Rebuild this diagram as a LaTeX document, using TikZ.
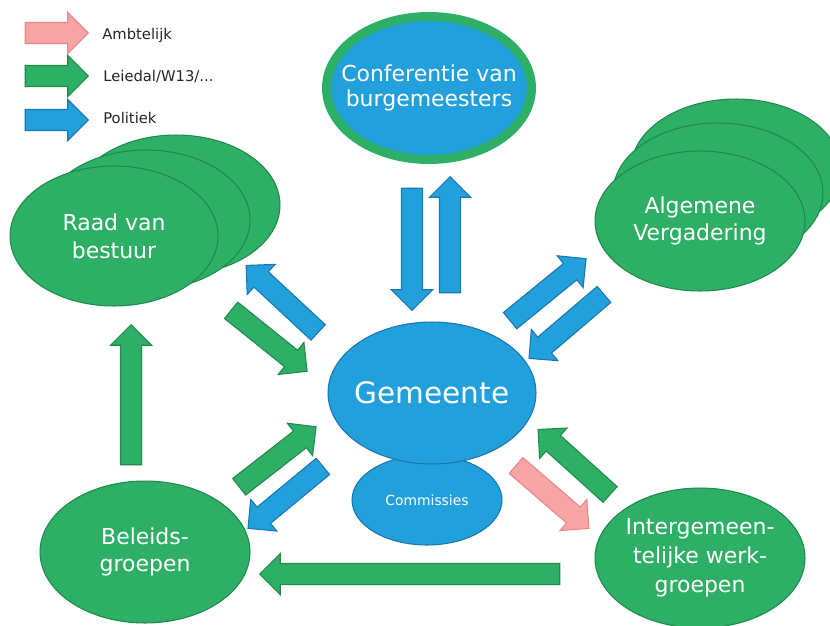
\documentclass[tikz,border=0pt]{standalone}
\usepackage{fontspec}
\setmainfont{DejaVu Sans}
\usetikzlibrary{shapes.geometric, shapes.arrows, calc}

\definecolor{grfill}{HTML}{2EAF66}
\definecolor{grline}{HTML}{1F8A4C}
\definecolor{blfill}{HTML}{22A0DC}
\definecolor{blline}{HTML}{1877AE}
\definecolor{pkfill}{HTML}{F6A4A4}
\definecolor{pkline}{HTML}{E58A8A}

\tikzset{
	blob/.style = {ellipse, draw, line width = 0.6pt, inner xsep = -0.6cm, inner ysep = 0pt,
		text = white, align = center, font = \fontsize{12.5}{15.8}\selectfont},
	greenblob/.style = {blob, fill = grfill, draw = grline},
	blueblob/.style = {blob, fill = blfill, draw = blline},
	fat/.style = {single arrow, draw, line width = 0.6pt, inner xsep = 0pt, inner ysep = 0.2cm,
		single arrow head extend = 0.2cm, single arrow tip angle = 90},
	greenarrow/.style = {fat, fill = grfill, draw = grline},
	bluearrow/.style = {fat, fill = blfill, draw = blline},
	pinkarrow/.style = {fat, fill = pkfill, draw = pkline},
	legendtext/.style = {anchor = west, inner sep = 0pt, text = black!85,
		font = \fontsize{8.4}{10}\selectfont}
}

% block arrow: style, from, to
\newcommand{\fatarrow}[3]{%
	\path let \p1 = ($(#3) - (#2)$), \n1 = {veclen(\x1, \y1)} in
		(#2) -- (#3) node [#1, name = {#2-#3}, midway, sloped, allow upside down, minimum height = \n1] {};
}

\begin{document}
\begin{tikzpicture}[x = 0.02cm, y = -0.02cm]

	\path [fill = white, use as bounding box] (0, 0) rectangle (830, 625);

	% Stacked ellipses
	
	\node [greenblob, minimum width = 4.16cm, minimum height = 2.8cm] (raad3) at (176, 205) {};
	\node [greenblob, minimum width = 4.16cm, minimum height = 2.8cm] (raad2) at (146, 220) {};
	\node [greenblob, minimum width = 4.16cm, minimum height = 2.8cm] (raad) at (114, 236) {Raad van\\bestuur};
	
	\node [greenblob, minimum width = 4.2cm, minimum height = 2.8cm] (alg3) at (736, 169) {};
	\node [greenblob, minimum width = 4.2cm, minimum height = 2.8cm] (alg2) at (718, 193) {};
	\node [greenblob, minimum width = 4.2cm, minimum height = 2.8cm] (alg) at (700, 221) {Algemene\\Vergadering};

	% Single ellipses
	
	\node [blueblob, draw = grfill, line width = 0.18cm, minimum width = 4.1cm, minimum height = 2.86cm,
		font = \fontsize{12.5}{14.5}\selectfont] (conf) at (429, 88) {Conferentie van\\burgemeesters};
	
	\node [blueblob, minimum width = 3cm, minimum height = 1.8cm, font = \fontsize{7.9}{9.5}\selectfont]
		(comm) at (427, 500) {Commissies};
	\node [blueblob, minimum width = 4.16cm, minimum height = 2.84cm, font = \fontsize{16.8}{20}\selectfont]
		(gem) at (432, 393) {Gemeente};
	
	\node [greenblob, minimum width = 4.2cm, minimum height = 2.84cm] (beleid) at (145, 552) {Beleids-\\groepen};
	\node [greenblob, minimum width = 4.2cm, minimum height = 2.8cm, font = \fontsize{12.5}{16.4}\selectfont]
		(inter) at (700, 558) {Intergemeen-\\telijke werk-\\groepen};

	% Arrow end points
	
	\coordinate (cg1) at (412, 183);	\coordinate (cg2) at (412, 305);
	\coordinate (gc1) at (450, 298);	\coordinate (gc2) at (450, 182);
	\coordinate (rg1) at (227, 307);	\coordinate (rg2) at (303, 368);
	\coordinate (gr1) at (322, 336);	\coordinate (gr2) at (250, 269);
	\coordinate (ga1) at (506, 324);	\coordinate (ga2) at (582, 262);
	\coordinate (ag1) at (608, 291);	\coordinate (ag2) at (533, 355);
	\coordinate (bg1) at (235, 490);	\coordinate (bg2) at (312, 430);
	\coordinate (gb1) at (327, 463);	\coordinate (gb2) at (252, 525);
	\coordinate (br1) at (131, 470);	\coordinate (br2) at (131, 330);
	\coordinate (ig1) at (614, 498);	\coordinate (ig2) at (542, 433);
	\coordinate (gi1) at (512, 462);	\coordinate (gi2) at (585, 525);
	\coordinate (ib1) at (565, 574);	\coordinate (ib2) at (265, 574);

	% Arrows
	
	\fatarrow{bluearrow}{cg1}{cg2}
	\fatarrow{bluearrow}{gc1}{gc2}
	\fatarrow{greenarrow}{rg1}{rg2}
	\fatarrow{bluearrow}{gr1}{gr2}
	\fatarrow{bluearrow}{ga1}{ga2}
	\fatarrow{bluearrow}{ag1}{ag2}
	\fatarrow{greenarrow}{bg1}{bg2}
	\fatarrow{bluearrow}{gb1}{gb2}
	\fatarrow{greenarrow}{br1}{br2}
	\fatarrow{greenarrow}{ig1}{ig2}
	\fatarrow{pinkarrow}{gi1}{gi2}
	\fatarrow{greenarrow}{ib1}{ib2}

	% Legend
	
	\coordinate (lp1) at (20, 33);	\coordinate (lp2) at (83, 33);
	\coordinate (lg1) at (20, 76);	\coordinate (lg2) at (83, 76);
	\coordinate (lb1) at (20, 120);	\coordinate (lb2) at (83, 120);
	
	\fatarrow{pinkarrow}{lp1}{lp2}
	\fatarrow{greenarrow}{lg1}{lg2}
	\fatarrow{bluearrow}{lb1}{lb2}
	
	\node [legendtext] (amb) at (102, 35) {Ambtelijk};
	\node [legendtext] (lei) at (103, 77) {Leiedal/W13/...};
	\node [legendtext] (pol) at (103, 118) {Politiek};

\end{tikzpicture}
\end{document}
